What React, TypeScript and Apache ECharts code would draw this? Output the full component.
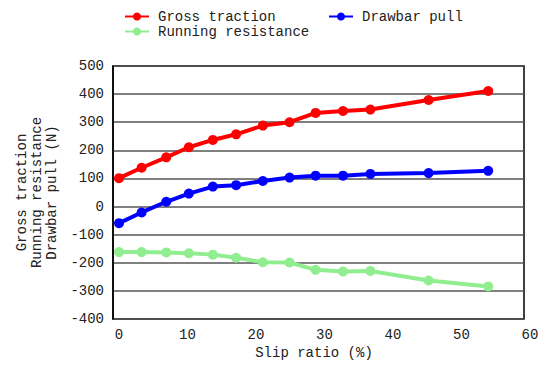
import React, { useEffect, useRef } from "react";
import * as echarts from "echarts";

const slipRatio = [0, 3.3, 6.9, 10.2, 13.7, 17.1, 21.0, 24.9, 28.7, 32.7, 36.7, 45.2, 53.9];
const grossTraction = [101, 138, 175, 211, 237, 257, 288, 300, 333, 340, 345, 379, 411];
const drawbarPull = [-59, -21, 17, 46, 71, 76, 91, 103, 110, 110, 116, 119, 127];
const runningResistance = [-162, -162, -163, -166, -171, -182, -198, -199, -225, -231, -229, -263, -284];
const xTicks = { min: 0, max: 60, interval: 10 };
const yTicks = { min: -400, max: 500, interval: 100 };

const FONT = "'Liberation Mono', 'Courier New', monospace";

export default function App() {
  const ref = useRef<HTMLDivElement>(null);
  useEffect(() => {
    if (!ref.current) return;
    const chart = echarts.init(ref.current, undefined, { renderer: "svg" });
    const pts = (ys: number[]) => slipRatio.map((x, i) => [x, ys[i]]);
    const mk = (name: string, color: string, ys: number[]) => ({
      name,
      type: "line",
      xAxisIndex: 1,
      yAxisIndex: 1,
      data: pts(ys),
      symbol: "circle",
      symbolSize: 10,
      itemStyle: { color },
      lineStyle: { color, width: 4 },
    });
    const legendText = { fontFamily: FONT, fontSize: 14, color: "#222", lineHeight: 15, padding: [0, 0, 0, 4] };
    chart.setOption({
      animation: false,
      backgroundColor: "#fff",
      textStyle: { fontFamily: FONT },
      legend: [
        {
          left: 124,
          top: 9,
          padding: 0,
          orient: "vertical",
          itemWidth: 24,
          itemHeight: 10,
          itemGap: 0,
          data: ["Gross traction", "Running resistance"],
          textStyle: legendText,
        },
        {
          left: 328,
          top: 9,
          padding: 0,
          orient: "vertical",
          itemWidth: 24,
          itemHeight: 10,
          itemGap: 0,
          data: ["Drawbar pull"],
          textStyle: legendText,
        },
      ],
      grid: [
        { left: 113, right: 20, top: 66, bottom: 49, show: true, borderColor: "#000", borderWidth: 1.5 },
        { left: 119, right: 14, top: 66, bottom: 49 },
      ],
      xAxis: [
        {
          gridIndex: 0,
          type: "value",
          min: xTicks.min,
          max: xTicks.max,
          interval: xTicks.interval,
          axisLine: { show: false },
          axisTick: { show: false },
          axisLabel: { show: false },
          splitLine: { show: false },
          name: "Slip ratio (%)",
          nameLocation: "middle",
          nameGap: 27,
          nameTextStyle: { fontFamily: FONT, fontSize: 14, color: "#222", padding: [0, 9, 0, 0] },
        },
        {
          gridIndex: 1,
          type: "value",
          min: xTicks.min,
          max: xTicks.max,
          interval: xTicks.interval,
          axisLine: { show: false },
          axisTick: { show: false },
          splitLine: { show: false },
          axisLabel: { fontFamily: FONT, fontSize: 14, color: "#222", margin: 9 },
        },
      ],
      yAxis: [
        {
          gridIndex: 0,
          type: "value",
          min: yTicks.min,
          max: yTicks.max,
          interval: yTicks.interval,
          axisLine: { show: true, lineStyle: { color: "#000", width: 1.5 } },
          axisTick: { show: false },
          axisLabel: { fontFamily: FONT, fontSize: 14, color: "#222", margin: 9 },
          splitLine: { show: true, lineStyle: { color: "#555", width: 1.5 } },
          name: "Gross traction\nRunning resistance\nDrawbar pull (N)",
          nameLocation: "middle",
          nameGap: 53,
          nameTextStyle: { fontFamily: FONT, fontSize: 14, color: "#222", lineHeight: 15, align: "center" },
        },
        {
          gridIndex: 1,
          type: "value",
          min: yTicks.min,
          max: yTicks.max,
          interval: yTicks.interval,
          show: false,
        },
      ],
      series: [
        mk("Gross traction", "#ff0000", grossTraction),
        mk("Drawbar pull", "#0000ff", drawbarPull),
        mk("Running resistance", "#90ee90", runningResistance),
      ],
    });
    return () => chart.dispose();
  }, []);
  return <div ref={ref} style={{ width: 544, height: 368, position: "absolute", left: 0, top: 0 }} />;
}
